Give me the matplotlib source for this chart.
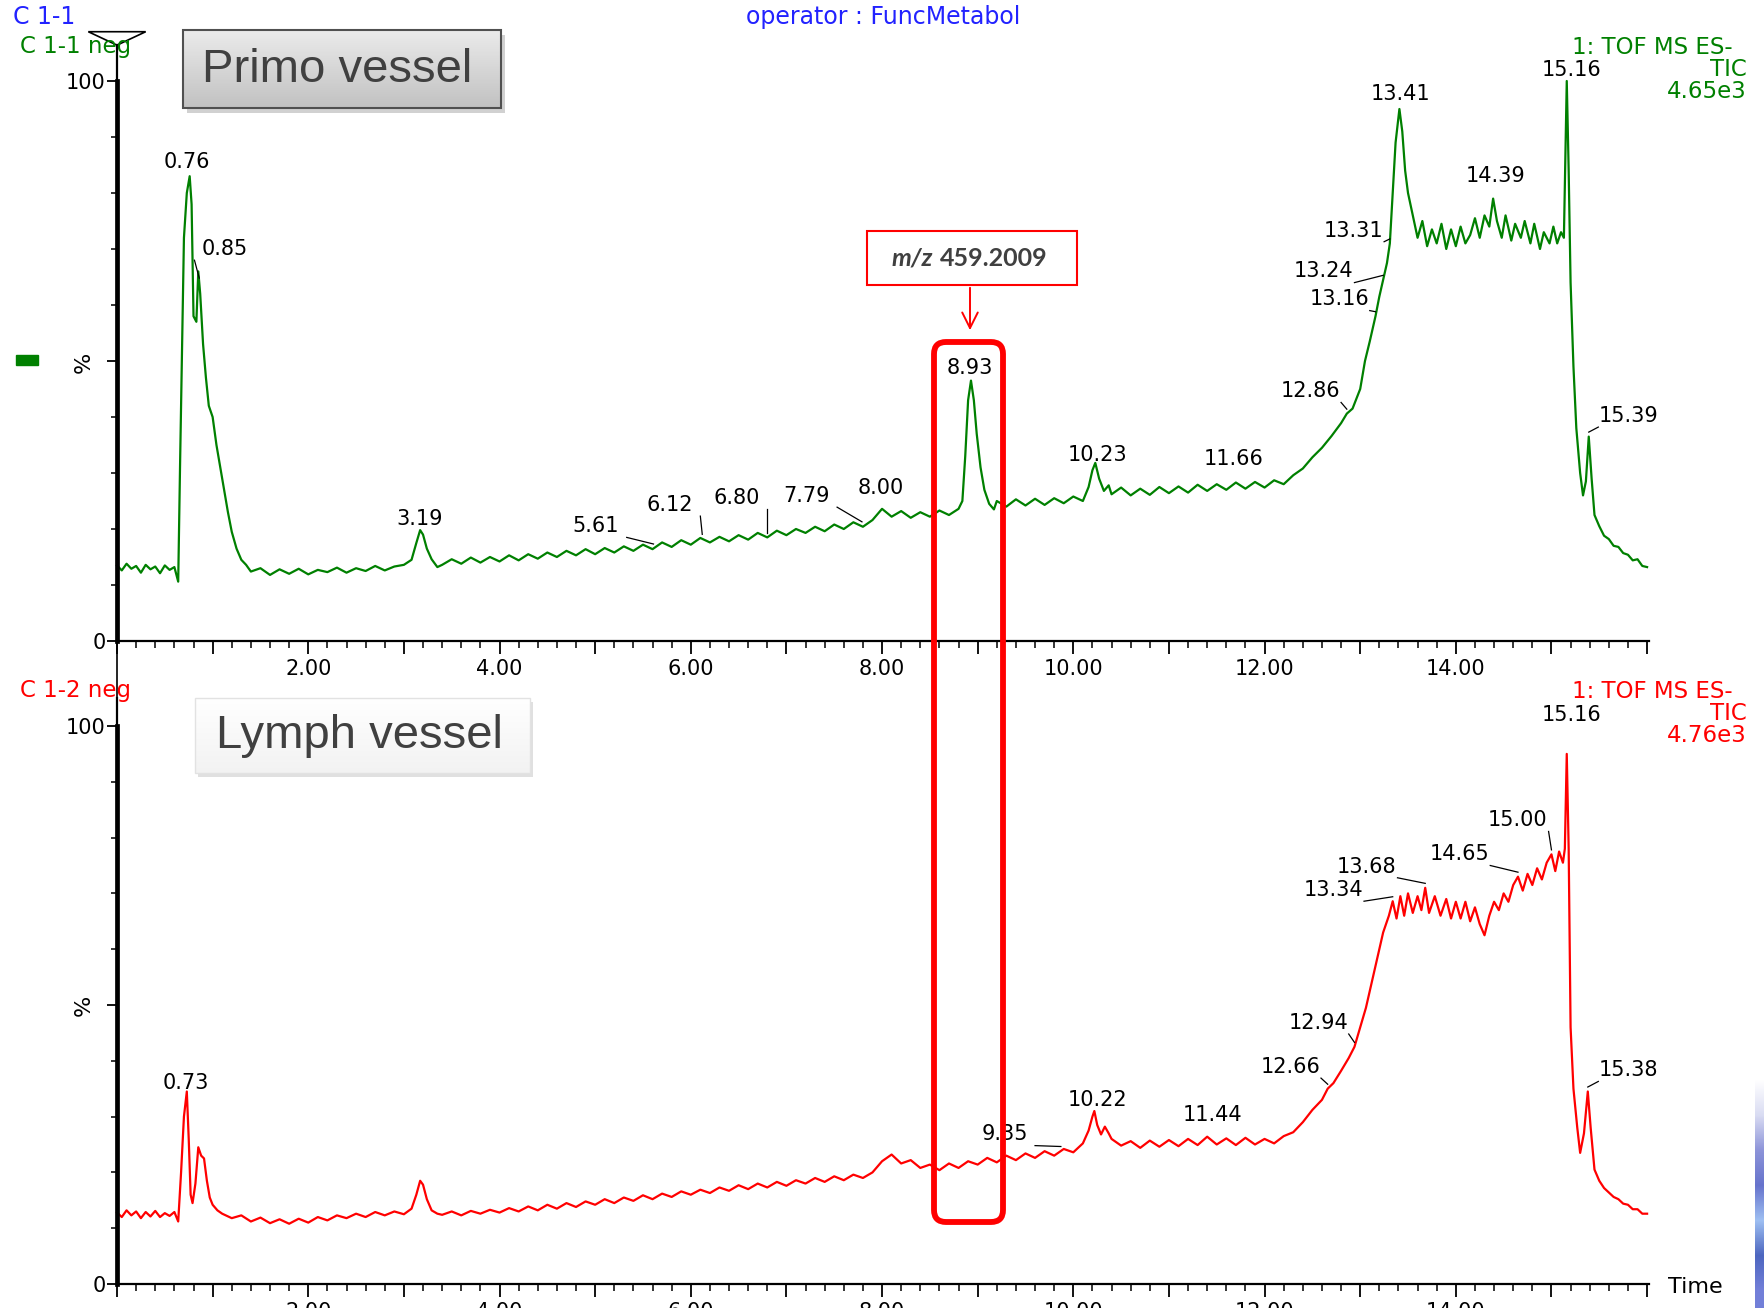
import numpy as np
import matplotlib.pyplot as plt
from matplotlib.patches import FancyBboxPatch, Rectangle, Polygon
from matplotlib.ticker import MultipleLocator, FixedLocator, FuncFormatter

plt.rcParams['font.family'] = ['DejaVu Sans']

# retention time (min), relative intensity (%)
primo_trace = [
    (0.00, 13.5), (0.05, 12.6), (0.10, 13.8), (0.15, 12.9), (0.20, 13.4), (0.25, 12.2), (0.30, 13.6),
    (0.35, 12.8), (0.40, 13.3), (0.45, 12.1), (0.50, 13.5), (0.55, 12.7), (0.60, 13.2), (0.64, 10.6),
    (0.66, 32), (0.70, 72), (0.73, 80), (0.76, 83), (0.78, 78), (0.80, 58), (0.83, 57), (0.85, 66),
    (0.87, 62), (0.90, 53), (0.93, 47), (0.96, 42), (1.00, 40), (1.04, 35), (1.08, 31), (1.12, 27),
    (1.16, 23), (1.20, 19.5), (1.25, 16.5), (1.30, 14.5), (1.35, 13.6),
    (1.4, 12.4), (1.5, 13.0), (1.6, 11.8), (1.7, 12.8), (1.8, 12.0), (1.9, 12.9), (2.0, 11.9),
    (2.1, 12.7), (2.2, 12.3), (2.3, 13.1), (2.4, 12.2), (2.5, 13.0), (2.6, 12.5), (2.7, 13.4),
    (2.8, 12.6), (2.9, 13.3), (3.0, 13.6),
    (3.08, 14.5), (3.13, 17.5), (3.17, 19.8), (3.20, 19.0), (3.24, 16.5), (3.29, 14.6), (3.35, 13.2),
    (3.4, 13.6), (3.5, 14.6), (3.6, 13.8), (3.7, 14.9), (3.8, 14.0), (3.9, 15.0), (4.0, 14.2),
    (4.1, 15.3), (4.2, 14.4), (4.3, 15.5), (4.4, 14.7), (4.5, 15.8), (4.6, 15.0), (4.7, 16.1),
    (4.8, 15.3), (4.9, 16.4), (5.0, 15.5), (5.1, 16.6), (5.2, 15.8), (5.3, 16.9), (5.4, 16.1),
    (5.5, 17.2), (5.6, 16.4),
    (5.7, 17.6), (5.8, 16.8), (5.9, 18.0), (6.0, 17.2), (6.1, 18.4), (6.2, 17.6), (6.3, 18.6),
    (6.4, 17.8), (6.5, 18.9), (6.6, 18.1), (6.7, 19.3), (6.8, 18.5), (6.9, 19.7), (7.0, 18.9),
    (7.1, 20.0), (7.2, 19.3), (7.3, 20.4), (7.4, 19.6), (7.5, 20.8), (7.6, 20.0), (7.7, 21.2),
    (7.8, 20.4), (7.9, 21.6), (8.0, 23.6), (8.1, 22.2), (8.2, 23.2), (8.3, 22.0), (8.4, 23.0),
    (8.5, 22.2), (8.6, 23.3), (8.7, 22.5), (8.8, 23.6),
    (8.84, 25), (8.87, 33), (8.90, 43), (8.93, 46.5), (8.96, 43), (8.99, 37), (9.03, 31),
    (9.07, 27), (9.12, 24.5), (9.17, 23.5),
    (9.2, 25.0), (9.3, 24.0), (9.4, 25.3), (9.5, 24.2), (9.6, 25.4), (9.7, 24.3), (9.8, 25.5),
    (9.9, 24.6), (10.0, 25.8), (10.1, 25.0),
    (10.16, 27.5), (10.20, 30.5), (10.23, 31.8), (10.27, 29), (10.32, 26.8), (10.37, 27.8),
    (10.4, 26.2), (10.5, 27.4), (10.6, 26.0), (10.7, 27.2), (10.8, 26.1), (10.9, 27.5), (11.0, 26.4),
    (11.1, 27.6), (11.2, 26.5), (11.3, 27.9), (11.4, 26.8), (11.5, 28.0), (11.6, 27.0), (11.7, 28.3),
    (11.8, 27.2), (11.9, 28.4), (12.0, 27.4), (12.1, 28.7), (12.2, 28.0),
    (12.3, 29.6), (12.4, 30.8), (12.5, 32.8), (12.6, 34.5), (12.7, 36.6), (12.8, 38.9), (12.86, 40.6),
    (12.92, 41.5), (13.0, 45), (13.05, 50), (13.10, 53.5), (13.16, 58), (13.20, 61.5), (13.24, 64.5),
    (13.28, 67.5), (13.31, 71), (13.34, 80), (13.37, 89), (13.41, 95), (13.44, 91), (13.47, 84),
    (13.50, 80), (13.55, 76), (13.60, 72), (13.65, 75), (13.70, 70.5), (13.75, 73.5), (13.80, 71),
    (13.85, 74.5), (13.90, 70), (13.95, 73.5), (14.00, 70.5), (14.05, 74), (14.10, 71), (14.15, 72.5),
    (14.20, 75.5), (14.25, 72), (14.30, 76), (14.35, 74), (14.39, 79), (14.43, 75), (14.48, 72),
    (14.52, 76), (14.58, 71.5), (14.62, 74.5), (14.68, 72), (14.72, 75), (14.78, 71), (14.82, 74.5),
    (14.88, 70), (14.92, 73), (14.98, 71), (15.02, 74), (15.06, 71), (15.10, 73), (15.13, 72),
    (15.15, 90), (15.16, 100), (15.18, 84), (15.20, 64), (15.23, 49), (15.26, 38), (15.30, 30),
    (15.33, 26), (15.36, 28.5), (15.39, 36.5), (15.42, 29), (15.45, 22.5), (15.50, 20.5),
    (15.55, 18.8), (15.60, 18.2), (15.65, 17), (15.70, 16.8), (15.75, 15.7), (15.80, 15.4),
    (15.85, 14.4), (15.90, 14.6), (15.95, 13.4), (16.00, 13.2),
]

lymph_trace = [
    (0.00, 12.8), (0.05, 12.0), (0.10, 13.2), (0.15, 12.3), (0.20, 13.0), (0.25, 11.8), (0.30, 12.9),
    (0.35, 12.1), (0.40, 13.1), (0.45, 12.0), (0.50, 12.7), (0.55, 12.2), (0.60, 12.9), (0.64, 11.2),
    (0.67, 20), (0.70, 30), (0.73, 34.5), (0.75, 26), (0.77, 16), (0.79, 14.5), (0.82, 18),
    (0.85, 24.5), (0.88, 23), (0.91, 22.5), (0.94, 18.5), (0.97, 15.5), (1.00, 14.2), (1.05, 13.2),
    (1.10, 12.6), (1.15, 12.2),
    (1.2, 11.8), (1.3, 12.3), (1.4, 11.2), (1.5, 11.9), (1.6, 10.9), (1.7, 11.6), (1.8, 10.8),
    (1.9, 11.7), (2.0, 11.0), (2.1, 12.0), (2.2, 11.4), (2.3, 12.3), (2.4, 11.8), (2.5, 12.6),
    (2.6, 12.0), (2.7, 12.9), (2.8, 12.3), (2.9, 13.0), (3.0, 12.5),
    (3.08, 13.5), (3.13, 16), (3.17, 18.5), (3.20, 17.8), (3.24, 15.2), (3.29, 13.2), (3.35, 12.6),
    (3.4, 12.4), (3.5, 13.0), (3.6, 12.3), (3.7, 13.1), (3.8, 12.6), (3.9, 13.3), (4.0, 12.8),
    (4.1, 13.6), (4.2, 13.0), (4.3, 13.9), (4.4, 13.2), (4.5, 14.2), (4.6, 13.5), (4.7, 14.5),
    (4.8, 13.8), (4.9, 14.8), (5.0, 14.2), (5.1, 15.2), (5.2, 14.5), (5.3, 15.5), (5.4, 14.9),
    (5.5, 15.9), (5.6, 15.2), (5.7, 16.2), (5.8, 15.6), (5.9, 16.6), (6.0, 16.0), (6.1, 16.9),
    (6.2, 16.3), (6.3, 17.3), (6.4, 16.7), (6.5, 17.7), (6.6, 17.0), (6.7, 18.0), (6.8, 17.3),
    (6.9, 18.3), (7.0, 17.6), (7.1, 18.6), (7.2, 18.0), (7.3, 19.0), (7.4, 18.3), (7.5, 19.3),
    (7.6, 18.6), (7.7, 19.6), (7.8, 19.0), (7.9, 20.0),
    (8.0, 22.0), (8.1, 23.2), (8.2, 21.6), (8.3, 22.2), (8.4, 20.8), (8.5, 21.4), (8.6, 20.4),
    (8.7, 21.6), (8.8, 20.8), (8.9, 22.0), (9.0, 21.4), (9.1, 22.6), (9.2, 21.8), (9.3, 23.0),
    (9.4, 22.2), (9.5, 23.4), (9.6, 22.6), (9.7, 23.8), (9.8, 23.0), (9.9, 24.2), (10.0, 23.6),
    (10.1, 25.2),
    (10.16, 27.5), (10.20, 30.0), (10.22, 31.0), (10.25, 28.5), (10.29, 26.8), (10.33, 28.2),
    (10.37, 27.0),
    (10.4, 26.0), (10.5, 24.8), (10.6, 25.6), (10.7, 24.4), (10.8, 25.7), (10.9, 24.6), (11.0, 25.8),
    (11.1, 24.7), (11.2, 26.0), (11.3, 24.9), (11.4, 26.4), (11.5, 25.0), (11.6, 26.1), (11.7, 24.9),
    (11.8, 26.2), (11.9, 25.0), (12.0, 26.0), (12.1, 25.2), (12.2, 26.5), (12.3, 27.2),
    (12.4, 29.0), (12.5, 31.2), (12.6, 33.0), (12.66, 35.0), (12.72, 36.0), (12.8, 38.2),
    (12.88, 40.5), (12.94, 42.5), (13.0, 46), (13.06, 49.5), (13.12, 54), (13.18, 58.5),
    (13.24, 63), (13.30, 66), (13.34, 68.6), (13.38, 65.5), (13.42, 69.5), (13.46, 66), (13.50, 70),
    (13.55, 66.5), (13.60, 69.5), (13.64, 67), (13.68, 71), (13.72, 66.5), (13.78, 69.5),
    (13.84, 66), (13.90, 69), (13.95, 65.5), (14.00, 68.5), (14.05, 65.5), (14.10, 68.5),
    (14.15, 65), (14.20, 67.5), (14.25, 64.5), (14.30, 62.5), (14.35, 66), (14.40, 68.5),
    (14.45, 67), (14.50, 70), (14.55, 68.5), (14.60, 71.5), (14.65, 73), (14.70, 70.5),
    (14.75, 73.5), (14.80, 71.5), (14.85, 74.5), (14.90, 72.5), (14.95, 75.5), (15.00, 77),
    (15.04, 74), (15.08, 77.5), (15.12, 75.5), (15.14, 78), (15.16, 95), (15.18, 78), (15.20, 46),
    (15.23, 35), (15.27, 28), (15.30, 23.5), (15.34, 27), (15.38, 34.5), (15.41, 28), (15.45, 20.5),
    (15.50, 18.5), (15.55, 17.2), (15.60, 16.4), (15.65, 15.6), (15.70, 15.2), (15.75, 14.4),
    (15.80, 14.2), (15.85, 13.4), (15.90, 13.4), (15.95, 12.6), (16.00, 12.6),
]

# peak labels: text, label centre (min, %), retention time the leader points to
primo_labels = ['0.76', '0.85', '3.19', '5.61', '6.12', '6.80', '7.79', '8.00', '8.93', '10.23',
                '11.66', '12.86', '13.16', '13.24', '13.31', '13.41', '14.39', '15.16', '15.39']
primo_label_x = [0.73, 1.13, 3.16, 5.01, 5.78, 6.48, 7.21, 7.99, 8.92, 10.25,
                 11.68, 12.48, 12.78, 12.62, 12.93, 13.42, 14.42, 15.21, 15.81]
primo_label_y = [85.5, 70.0, 21.7, 20.5, 24.3, 25.5, 25.9, 27.3, 48.8, 33.3,
                 32.5, 44.6, 61.0, 66.0, 73.3, 97.6, 83.1, 102.0, 40.2]
primo_leader = [None, 0.86, None, 5.61, 6.12, 6.80, 7.79, None, None, None,
                None, 12.86, 13.16, 13.24, 13.31, None, None, None, 15.39]

lymph_labels = ['0.73', '9.35', '10.22', '11.44', '12.66', '12.94', '13.34', '13.68', '14.65',
                '15.00', '15.16', '15.38']
lymph_label_x = [0.72, 9.28, 10.25, 11.46, 12.27, 12.56, 12.72, 13.07, 14.04, 14.65, 15.21, 15.81]
lymph_label_y = [36.1, 26.8, 32.9, 30.2, 38.9, 46.8, 70.6, 74.8, 77.0, 83.1, 102.0, 38.3]
lymph_leader = [None, 9.87, None, None, 12.66, 12.94, 13.34, 13.68, 14.65, 15.00, None, 15.38]

GREEN = '#008000'
RED = '#ff0000'
W, H = 1764, 1308

fig = plt.figure(figsize=(W / 100, H / 100), dpi=100)


def px_axes(x0, y0, x1, y1, **kw):
    # box given in pixels, origin top-left
    return fig.add_axes([x0 / W, 1 - y1 / H, (x1 - x0) / W, (y1 - y0) / H], **kw)


def style_axes(ax, top_ext):
    ax.set_xlim(0, 16.02)
    ax.set_ylim(0, 100)
    ax.patch.set_alpha(0)
    for s in ('top', 'right'):
        ax.spines[s].set_visible(False)
    ax.spines['left'].set_linewidth(3.4)
    ax.spines['bottom'].set_linewidth(1.6)
    ax.xaxis.set_major_locator(MultipleLocator(1))
    ax.xaxis.set_minor_locator(MultipleLocator(0.2))
    ax.xaxis.set_major_formatter(FuncFormatter(
        lambda v, p: f'{v:.2f}' if (0 < v < 15 and round(v) % 2 == 0) else ''))
    ax.tick_params(axis='x', which='major', length=9, width=1.3, labelsize=15, pad=4)
    ax.tick_params(axis='x', which='minor', length=5, width=1.1)
    ax.yaxis.set_major_locator(FixedLocator([0, 50, 100]))
    ax.yaxis.set_minor_locator(MultipleLocator(10))
    ax.yaxis.set_major_formatter(FuncFormatter(lambda v, p: {0: '0', 100: '100'}.get(int(v), '')))
    ax.tick_params(axis='y', which='major', length=7, width=1.3, labelsize=15, pad=1)
    ax.tick_params(axis='y', which='minor', length=4, width=1.1)
    ax.plot([0, 0], [100, top_ext], color='black', lw=1.6, clip_on=False)


def draw_trace(ax, trace, color, labels, lx, ly, leader):
    rt, pct = np.array(trace).T
    ax.plot(rt, pct, color=color, lw=1.6, clip_on=False)
    for txt, x, y, lead in zip(labels, lx, ly, leader):
        ax.text(x, y, txt, ha='center', va='center', fontsize=15, color='black')
        if lead is not None:
            x0 = x + 0.32 if lead > x else x - 0.32
            ax.plot([x0, lead], [y - 2.0, np.interp(lead, rt, pct) + 0.8],
                    color='black', lw=0.9)


ax_top = px_axes(117, 81, 1649, 641)
ax_bot = px_axes(117, 726, 1649, 1284)
style_axes(ax_top, 106.4)
style_axes(ax_bot, 105)
draw_trace(ax_top, primo_trace, GREEN, primo_labels, primo_label_x, primo_label_y, primo_leader)
draw_trace(ax_bot, lymph_trace, RED, lymph_labels, lymph_label_x, lymph_label_y, lymph_leader)

# instrument marker on top of the axis
ax_top.add_patch(Polygon([(-0.30, 108.8), (0.30, 108.8), (0.0, 106.4)], closed=True,
                         fill=False, ec='black', lw=1.2, clip_on=False))

# overlay in figure pixels for the headers and call-outs
ov = fig.add_axes([0, 0, 1, 1], zorder=10)
ov.set_xlim(0, W)
ov.set_ylim(H, 0)
ov.axis('off')

ov.plot([117, 117], [641, 726], color='black', lw=1.2)

ov.text(13, 17, 'C 1-1', color='#2222ff', fontsize=17, va='center', ha='left')
ov.text(883, 17, 'operator : FuncMetabol', color='#2222ff', fontsize=17, va='center', ha='center')
ov.text(20, 47, 'C 1-1 neg', color=GREEN, fontsize=16.5, va='center', ha='left')
ov.text(20, 691, 'C 1-2 neg', color=RED, fontsize=16.5, va='center', ha='left')

for lines, col, y0 in ((['1: TOF MS ES-', 'TIC', '4.65e3'], GREEN, 47),
                       (['1: TOF MS ES-', 'TIC', '4.76e3'], RED, 691)):
    ov.text(1733, y0, lines[0], color=col, fontsize=16.5, ha='right', va='center')
    ov.text(1747, y0 + 22, lines[1], color=col, fontsize=16.5, ha='right', va='center')
    ov.text(1747, y0 + 45, lines[2], color=col, fontsize=16.5, ha='right', va='center')

ov.add_patch(Rectangle((16, 355), 22, 10, color=GREEN))
ov.text(84, 362, '%', fontsize=16, rotation=90, ha='center', va='center')
ov.text(84, 1005, '%', fontsize=16, rotation=90, ha='center', va='center')
ov.text(1668, 1287, 'Time', fontsize=16, ha='left', va='center')

# "Primo vessel" button-like box
ov.add_patch(Rectangle((187, 35), 318, 78, color='#000000', alpha=0.18, lw=0))
grad = np.linspace(0.92, 0.76, 50)[:, None]
ov.imshow(np.dstack([grad, grad, grad]), extent=(183, 501, 108, 30), aspect='auto', zorder=2)
ov.add_patch(Rectangle((183, 30), 318, 78, fill=False, ec='#505050', lw=1.5, zorder=3))
ov.text(202, 70, 'Primo vessel', family='Liberation Sans', fontsize=34, color='#404040',
        ha='left', va='center', zorder=4)

# "Lymph vessel" box
ov.add_patch(Rectangle((198, 702), 335, 75, color='#000000', alpha=0.12, lw=0))
grad2 = np.linspace(1.0, 0.95, 50)[:, None]
ov.imshow(np.dstack([grad2, grad2, grad2]), extent=(195, 530, 773, 698), aspect='auto', zorder=2)
ov.add_patch(Rectangle((195, 698), 335, 75, fill=False, ec='#e2e2e2', lw=1.0, zorder=3))
ov.text(216, 736, 'Lymph vessel', family='Liberation Sans', fontsize=34, color='#404040',
        ha='left', va='center', zorder=4)

# m/z call-out and highlight frame
ov.add_patch(Rectangle((867, 231), 210, 54, fill=False, ec=RED, lw=1.5))
ov.text(933, 258, 'm/z', family='Lato', fontsize=18, fontweight='bold', fontstyle='italic',
        color='#404040', ha='right', va='center')
ov.text(940, 258, '459.2009', family='Lato', fontsize=18, fontweight='bold',
        color='#404040', ha='left', va='center')
ov.annotate('', xy=(970, 333), xytext=(970, 285),
            arrowprops=dict(arrowstyle='->', color=RED, lw=1.4, mutation_scale=28))
ov.add_patch(FancyBboxPatch((934, 342), 69, 880, boxstyle='round,pad=0,rounding_size=12',
                            fill=False, ec=RED, lw=4.2))

# slide edge decoration at the bottom right
strip = np.array([[1, 1, 1], [0.85, 0.86, 0.95], [0.55, 0.58, 0.85], [0.40, 0.45, 0.80],
                  [0.62, 0.75, 0.95], [0.30, 0.40, 0.75], [0.45, 0.50, 0.85]])[:, None, :]
ov.imshow(strip, extent=(1755, 1764, 1308, 1063), aspect='auto', interpolation='bilinear')

ov.set_xlim(0, W)
ov.set_ylim(H, 0)

fig.savefig('out.png', dpi=100)
